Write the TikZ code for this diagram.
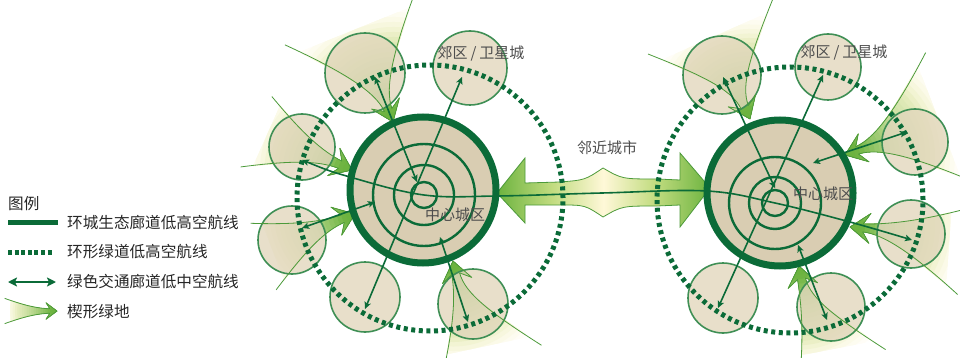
\documentclass[tikz,border=0pt]{standalone}
\usepackage{fontspec}
\setmainfont{Noto Sans CJK SC}
\usetikzlibrary{arrows.meta}

\definecolor{ringgreen}{HTML}{0B6B38}
\definecolor{satedge}{HTML}{3F8F55}
\definecolor{satfill}{HTML}{E2D7BD}
\definecolor{corefill}{HTML}{D9CDB2}
\definecolor{wedgegreen}{HTML}{6CB33F}
\definecolor{wedgemid}{HTML}{C2DC80}
\definecolor{wedgepale}{HTML}{FFF8D8}
\definecolor{wedgeline}{HTML}{4C9A3A}
\definecolor{labelgray}{HTML}{4D4D4D}

% green at both heads, pale in the middle
\pgfdeclarehorizontalshading{linkshade}{100bp}{color(0bp)=(wedgegreen);
  color(25bp)=(wedgegreen); color(38bp)=(wedgemid); color(50bp)=(wedgepale);
  color(62bp)=(wedgemid); color(75bp)=(wedgegreen); color(100bp)=(wedgegreen)}

% wedge outline, tip at the origin pointing along +x
% #1 length, #2 and #3 half widths at the far end
\newcommand{\wedgeoutline}[3]{%
  (0,0) -- (-20,-15) -- (-13,-4)
  .. controls (-35,-5) and ({-0.6*#1},{-0.4*#2}) .. ({-#1},{-#2})
  -- ({-#1},{#3})
  .. controls ({-0.6*#1},{0.4*#3}) and (-35,5) .. (-13,4)
  -- (-20,15) -- cycle}

% body of a green wedge: [extra], tip, heading (clockwise), length, widths
% rings around the tip fade from green to cream, then to white
\newcommand{\greenwedge}[6][]{%
  \begin{scope}[shift={#2}, rotate={-(#3)}, #1]
    \clip \wedgeoutline{#4}{#5}{#6};
    \foreach \k in {24,...,1}{
      \pgfmathsetmacro{\p}{min(100,120*(1-\k/24)^1.5)}
      \pgfmathsetmacro{\q}{min(100,350*(1-\k/24)+5)}
      \fill[wedgegreen!\p!wedgepale!\q!white] (0,0) circle[radius={1.2*#4*\k/24}];
    }
  \end{scope}}

% thin border lines of the same wedge, drawn above the towns
\newcommand{\wedgeedges}[6][]{%
  \begin{scope}[shift={#2}, rotate={-(#3)}, #1]
    \draw[wedgeline, line width=0.8] (-13,-4) .. controls (-35,-5) and
      ({-0.66*#4},{-0.45*#5}) .. ({-1.12*#4},{-1.15*#5});
    \draw[wedgeline, line width=0.8] (-13,4) .. controls (-35,5) and
      ({-0.66*#4},{0.45*#6}) .. ({-1.12*#4},{1.15*#6});
    \draw[wedgeline, line width=0.8, line join=round]
      (-13,-4) -- (-20,-15) -- (0,0) -- (-20,15) -- (-13,4);
  \end{scope}}

\begin{document}
\begin{tikzpicture}[
    x=1pt, y=-1pt,
    >={Stealth[length=7pt, width=6.5pt, inset=1.5pt]},
    satcity/.style={circle, draw=satedge, line width=1.6, fill=satfill,
      fill opacity=0.8, inner sep=0pt},
    corecity/.style={circle, draw=ringgreen, line width=7, fill=corefill,
      inner sep=0pt},
    ring/.style={draw=ringgreen, line width=2.4},
    greenway/.style={circle, draw=ringgreen, line width=5,
      dash pattern=on 4pt off 3.6pt, inner sep=0pt},
    corridor/.style={draw=ringgreen, line width=1.6, <->},
    placelabel/.style={text=labelgray, font=\fontsize{15}{18}\selectfont,
      inner sep=1pt},
    legendtext/.style={anchor=west, text=black!85,
      font=\fontsize{15.6}{18}\selectfont, inner sep=0pt}
]
\useasboundingbox (0,0) rectangle (960,358);

% Wedge green spaces (bodies)
\greenwedge{(393,122)}{68}{100}{60}{62}
\greenwedge{(352,170)}{24}{92}{30}{37}
\greenwedge{(355,214)}{-21}{90}{25}{37}
\greenwedge{(453,261)}{-102}{90}{26}{60}
\greenwedge{(750,119)}{66}{90}{61}{58}
\greenwedge{(845,155)}{159}{100}{63}{58}
\greenwedge{(850,227)}{184}{100}{52}{22}
\greenwedge{(799,266)}{-101}{88}{15}{60}

% Neighbouring city link
\shadedraw[shading=linkshade, draw=wedgeline, line width=0.8]
  (497,193) -- (525,158) -- (525,183) -- (560,182) .. controls (585,180) .. (603,168)
  .. controls (622,179) .. (657,179) -- (680,180) -- (680,153) -- (710,188)
  -- (680,227) -- (680,205) -- (657,206) .. controls (622,206) .. (603,217)
  .. controls (585,205) .. (560,205) -- (525,205) -- (525,223) -- cycle;

% Satellite towns
\node[satcity, minimum size=80pt] (lnw) at (365,73) {};
\node[satcity, minimum size=74pt] (lne) at (470,68) {};
\node[satcity, minimum size=66pt] (lwu) at (302,147) {};
\node[satcity, minimum size=68pt] (lwl) at (292,240) {};
\node[satcity, minimum size=70pt] (lsw) at (365,297) {};
\node[satcity, minimum size=70pt] (lse) at (473,304) {};

\node[satcity, minimum size=78pt] (rnw) at (722,75) {};
\node[satcity, minimum size=66pt] (rne) at (828,67) {};
\node[satcity, minimum size=66pt] (reu) at (915,142) {};
\node[satcity, minimum size=68pt] (rel) at (911,234) {};
\node[satcity, minimum size=70pt] (rsw) at (723,298) {};
\node[satcity, minimum size=68pt] (rse) at (831,307) {};

% Wedge green spaces (borders)
\wedgeedges{(393,122)}{68}{100}{60}{62}
\wedgeedges{(352,170)}{24}{92}{30}{37}
\wedgeedges{(355,214)}{-21}{90}{25}{37}
\wedgeedges{(453,261)}{-102}{90}{26}{60}
\wedgeedges{(750,119)}{66}{90}{61}{58}
\wedgeedges{(845,155)}{159}{100}{63}{58}
\wedgeedges{(850,227)}{184}{100}{52}{22}
\wedgeedges{(799,266)}{-101}{88}{15}{60}

% Central districts
\node[corecity, minimum size=146pt] (lcore) at (423,190) {};
\node[corecity, minimum size=146pt] (rcore) at (780,193) {};
\coordinate (lhub) at (424,195);
\coordinate (rhub) at (775,203);
\foreach \r in {13,30,51} \draw[ring] (lhub) circle[radius=\r];
\foreach \r in {13,26,46} \draw[ring] (rhub) circle[radius=\r];

% Ring greenways
\node[greenway, minimum size=266pt] (lway) at (430,198) {};
\node[greenway, minimum size=266pt] (rway) at (790,200) {};

% Green transport corridors
\coordinate (lnwEnd) at (375,77);   \coordinate (lnwIn) at (417,182);
\coordinate (lneEnd) at (462,77);   \coordinate (lswEnd) at (365,309);
\coordinate (lwuEnd) at (302,160);
\coordinate (lwlEnd) at (302,228);  \coordinate (lwlIn) at (375,202);
\coordinate (lseEnd) at (468,322);  \coordinate (lseIn) at (440,237);
\coordinate (rnwEnd) at (723,77);   \coordinate (rnwIn) at (775,188);
\coordinate (rneEnd) at (823,75);   \coordinate (rswEnd) at (718,308);
\coordinate (reuEnd) at (907,132);  \coordinate (reuIn) at (813,163);
\coordinate (relEnd) at (912,240);
\coordinate (rseEnd) at (827,320);  \coordinate (rseIn) at (798,245);

\draw[corridor] (lnwEnd) -- (lnwIn);
\draw[corridor] (lneEnd) -- (lswEnd);
\draw[corridor] (lwlEnd) -- (lwlIn);
\draw[corridor] (lseEnd) -- (lseIn);
\draw[corridor] (rnwEnd) -- (rnwIn);
\draw[corridor] (rneEnd) -- (rswEnd);
\draw[corridor] (reuEnd) -- (reuIn);
\draw[corridor] (rseEnd) -- (rseIn);
\draw[corridor] plot[smooth, tension=0.6] coordinates {(lwuEnd) (350,177) (lhub)
  (497,196) (602,193) (707,191) (rhub) (850,222) (relEnd)};

% Labels
\node[placelabel] (lsubtxt) at (481,54) {郊区\hspace{3pt}/\hspace{3pt}卫星城};
\node[placelabel] (rsubtxt) at (844,53) {郊区\hspace{3pt}/\hspace{3pt}卫星城};
\node[placelabel] (lcoretxt) at (455,215) {中心城区};
\node[placelabel] (rcoretxt) at (823,194) {中心城区};
\node[placelabel] (linktxt) at (607,148) {邻近城市};

% Legend
\node[legendtext] (legtitle) at (8,204) {图例};
\coordinate (k1a) at (8,222);  \coordinate (k1b) at (58,222);
\coordinate (k2a) at (8,252);  \coordinate (k2b) at (53,252);
\coordinate (k3a) at (8,282);  \coordinate (k3b) at (56,282);
\draw[ringgreen, line width=5] (k1a) -- (k1b);
\draw[ringgreen, line width=5, dash pattern=on 4pt off 2.6pt] (k2a) -- (k2b);
\draw[ringgreen, line width=2.4,
  <->, >={Stealth[length=9pt, width=9pt, inset=2pt]}] (k3a) -- (k3b);
\greenwedge[scale=0.55]{(57,311)}{0}{85}{20}{20}
\wedgeedges[scale=0.55]{(57,311)}{0}{85}{20}{20}
\node[legendtext] (leg1) at (67,223) {环城生态廊道低高空航线};
\node[legendtext] (leg2) at (67,252) {环形绿道低高空航线};
\node[legendtext] (leg3) at (67,282) {绿色交通廊道低中空航线};
\node[legendtext] (leg4) at (67,312) {楔形绿地};

\end{tikzpicture}
\end{document}
